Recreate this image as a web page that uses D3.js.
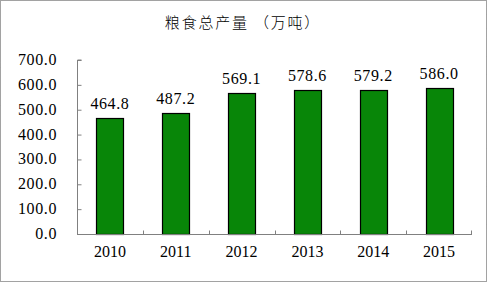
<!DOCTYPE html>
<html>
<head>
<meta charset="utf-8">
<script src="https://cdn.jsdelivr.net/npm/d3@7"></script>
<style>
  body { margin: 0; background: #fff; }
  svg text { font-family: "Liberation Serif", "DejaVu Serif", serif; }
</style>
</head>
<body>
<script>
// chart data
var years = ["2010", "2011", "2012", "2013", "2014", "2015"];
var output = [464.8, 487.2, 569.1, 578.6, 579.2, 586.0];
var yTicks = [0, 100, 200, 300, 400, 500, 600, 700];
var title = "粮食总产量 （万吨）";

// dimensions
var W = 487, H = 282;
var margin = {top: 60, right: 15, bottom: 48, left: 77},
    width = W - margin.left - margin.right,
    height = H - margin.top - margin.bottom;

var svg = d3.select("body").append("svg")
    .attr("width", W)
    .attr("height", H);

// dotted outer frame
svg.append("rect")
    .attr("x", 0.5).attr("y", 0.5)
    .attr("width", W - 1).attr("height", H - 1)
    .attr("fill", "#fff")
    .attr("stroke", "#444")
    .attr("stroke-dasharray", "1,1");

// title
svg.append("text")
    .attr("x", 243)
    .attr("y", 28)
    .attr("text-anchor", "middle")
    .style("font-family", "'Noto Sans CJK SC', sans-serif")
    .style("font-size", "15px")
    .style("font-weight", "300")
    .style("letter-spacing", "1.8px")
    .attr("fill", "#000")
    .text(title);

var g = svg.append("g")
    .attr("transform", "translate(" + margin.left + "," + margin.top + ")");

// scales
var x = d3.scaleBand()
    .domain(years)
    .range([0, width])
    .paddingInner(0.59)
    .paddingOuter(0.295);
var band = d3.scaleBand().domain(years).range([0, width]);
var y = d3.scaleLinear()
    .domain([0, 700])
    .range([height, 0]);

// bars
g.selectAll(".bar")
    .data(output)
  .enter().append("rect")
    .attr("class", "bar")
    .attr("x", function(d, i) { return Math.round(x(years[i])) + 0.5; })
    .attr("width", Math.round(x.bandwidth()))
    .attr("y", function(d) { return Math.round(y(d)) + 0.5; })
    .attr("height", function(d) { return height - Math.round(y(d)); })
    .attr("fill", "#088608")
    .attr("stroke", "#000")
    .attr("stroke-width", 1.2);

// value labels
g.selectAll(".val")
    .data(output)
  .enter().append("text")
    .attr("class", "val")
    .attr("x", function(d, i) { return x(years[i]) + x.bandwidth() / 2; })
    .attr("y", function(d) { return y(d) - 9; })
    .attr("text-anchor", "middle")
    .style("font-size", "16px")
    .style("letter-spacing", "0.6px")
    .text(function(d) { return d.toFixed(1); });

// y axis, ticks inward
var yAxis = g.append("g")
    .attr("transform", "translate(0.5,0)")
    .call(d3.axisRight(y).tickValues(yTicks).tickSize(4).tickFormat(""));
yAxis.selectAll("path, line").attr("stroke", "#808080");
yAxis.select(".domain").attr("d", "M4," + y(700) + "H0V" + height);

g.selectAll(".ylab")
    .data(yTicks)
  .enter().append("text")
    .attr("class", "ylab")
    .attr("x", -20)
    .attr("y", function(d) { return y(d) + 5; })
    .attr("text-anchor", "end")
    .style("font-size", "16px")
    .style("letter-spacing", "0.6px")
    .text(function(d) { return d.toFixed(1); });

// x axis, ticks at category boundaries pointing up
var xAxis = g.append("g")
    .attr("transform", "translate(0," + (height + 0.5) + ")");
xAxis.append("line")
    .attr("x1", 0).attr("x2", width)
    .attr("stroke", "#808080");
xAxis.selectAll(".tk")
    .data(years.slice(1).concat(["end"]))
  .enter().append("line")
    .attr("class", "tk")
    .attr("x1", function(d) { return d === "end" ? width - 0.5 : Math.round(band(d)) + 0.5; })
    .attr("x2", function(d) { return d === "end" ? width - 0.5 : Math.round(band(d)) + 0.5; })
    .attr("y1", 0).attr("y2", -4)
    .attr("stroke", "#808080");

g.selectAll(".xlab")
    .data(years)
  .enter().append("text")
    .attr("class", "xlab")
    .attr("x", function(d) { return band(d) + band.bandwidth() / 2; })
    .attr("y", height + 23)
    .attr("text-anchor", "middle")
    .style("font-size", "16px")
    .text(function(d) { return d; });
</script>
</body>
</html>
